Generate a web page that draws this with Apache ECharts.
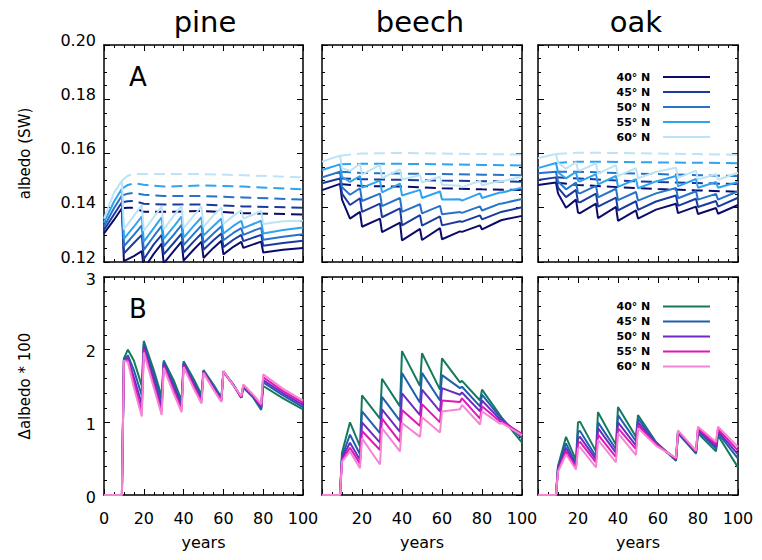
<!DOCTYPE html>
<html><head><meta charset="utf-8">
<script src="https://cdn.jsdelivr.net/npm/echarts@6/dist/echarts.min.js"></script>
<style>html,body{margin:0;padding:0;background:#fff}#c{width:762px;height:560px}</style>
</head><body><div id="c"></div>
<script>
const FONT = 'DejaVu Sans';
const speciesNames = ['pine', 'beech', 'oak'];
const latitudes = ['40° N', '45° N', '50° N', '55° N', '60° N'];
const topColors = ['#0b0b6b', '#1a3a9e', '#2673c9', '#2fa3ef', '#bde3f7'];
const bottomColors = ['#137a5e', '#1f5fae', '#6a2cc4', '#e116b4', '#f485d2'];
const yearTicks = [0, 20, 40, 60, 80, 100];
const albedoTicks = [0.12, 0.14, 0.16, 0.18, 0.20];
const deltaTicks = [0, 1, 2, 3];

// ---------- pine ----------
const pineYearsA = [0,5,9,10,15,19,20,25,29,30,35,39,40,45,49,50,55,59,60,65,69,70,75,79,80,90,100];
const pineA40 = [.1305,.1355,.1398,.1203,.1222,.1240,.1175,.1230,.1268,.1195,.1240,.1275,.1205,.1245,.1275,.1215,.1252,.1278,.1228,.1256,.1274,.1252,.1265,.1275,.1235,.1245,.1252];
const pineA45 = [.1318,.1375,.1420,.1232,.1270,.1300,.1210,.1265,.1300,.1228,.1270,.1305,.1235,.1275,.1305,.1245,.1280,.1305,.1255,.1282,.1300,.1277,.1290,.1300,.1260,.1270,.1278];
const pineA50 = [.1330,.1398,.1445,.1258,.1300,.1335,.1245,.1295,.1333,.1258,.1300,.1337,.1262,.1303,.1335,.1270,.1305,.1332,.1280,.1307,.1325,.1300,.1315,.1326,.1282,.1293,.1302];
const pineA55 = [.1345,.1422,.1470,.1285,.1330,.1368,.1275,.1325,.1365,.1285,.1330,.1368,.1290,.1332,.1365,.1298,.1333,.1360,.1305,.1333,.1352,.1325,.1340,.1352,.1305,.1318,.1327];
const pineA60 = [.1360,.1455,.1500,.1320,.1370,.1410,.1315,.1365,.1405,.1320,.1370,.1408,.1325,.1370,.1405,.1330,.1372,.1400,.1340,.1370,.1390,.1360,.1375,.1388,.1340,.1350,.1352];
const pineDashYears = [9,12,15,20,30,50,70,100];
const pineD40 = [.1398,.1400,.1400,.1385,.1385,.1388,.1380,.1375];
const pineD45 = [.1420,.1424,.1425,.1415,.1412,.1412,.1405,.1400];
const pineD50 = [.1445,.1452,.1455,.1448,.1443,.1443,.1438,.1430];
const pineD55 = [.1470,.1484,.1490,.1485,.1478,.1482,.1478,.1468];
const pineD60 = [.1500,.1518,.1525,.1524,.1524,.1524,.1520,.1512];
const pineYearsB = [0,9,10,12,15,19,20,25,29,30,35,39,40,45,49,50,55,59,60,65,69,70,75,79,80,90,100];
const pineB40 = [0,0,1.88,2.00,1.85,1.50,2.12,1.72,1.35,1.85,1.58,1.30,1.84,1.60,1.38,1.72,1.52,1.34,1.70,1.52,1.34,1.48,1.34,1.17,1.50,1.33,1.18];
const pineB45 = [0,0,1.86,1.92,1.72,1.37,2.08,1.65,1.30,1.83,1.53,1.26,1.82,1.56,1.34,1.71,1.50,1.32,1.70,1.52,1.34,1.49,1.35,1.19,1.55,1.37,1.21];
const pineB50 = [0,0,1.85,1.88,1.62,1.25,2.04,1.58,1.22,1.80,1.48,1.22,1.80,1.53,1.31,1.70,1.48,1.30,1.70,1.51,1.34,1.50,1.36,1.21,1.58,1.40,1.24];
const pineB55 = [0,0,1.85,1.86,1.55,1.15,2.00,1.52,1.15,1.77,1.44,1.18,1.78,1.50,1.28,1.69,1.46,1.29,1.70,1.51,1.35,1.51,1.37,1.23,1.62,1.43,1.27];
const pineB60 = [0,0,1.85,1.83,1.48,1.08,1.96,1.48,1.10,1.75,1.40,1.14,1.76,1.47,1.26,1.68,1.45,1.28,1.71,1.51,1.36,1.52,1.38,1.25,1.66,1.46,1.30];

// ---------- beech ----------
const beechYears = [0,9,10,14,19,20,29,30,39,40,49,50,59,60,69,70,79,80,89,90,100];
const beechA40 = [.1465,.1488,.1430,.1360,.1385,.1330,.1360,.1310,.1345,.1280,.1322,.1281,.1325,.1284,.1313,.1311,.1335,.1320,.1352,.1355,.1370];
const beechA45 = [.1490,.1508,.1452,.1410,.1435,.1385,.1415,.1365,.1398,.1335,.1373,.1334,.1368,.1335,.1350,.1348,.1372,.1357,.1383,.1385,.1402];
const beechA50 = [.1512,.1533,.1476,.1448,.1472,.1425,.1452,.1406,.1436,.1385,.1413,.1379,.1407,.1376,.1384,.1381,.1405,.1390,.1415,.1416,.1432];
const beechA55 = [.1539,.1560,.1514,.1495,.1517,.1474,.1500,.1457,.1489,.1445,.1466,.1436,.1460,.1430,.1431,.1426,.1453,.1436,.1456,.1456,.1474];
const beechA60 = [.1570,.1592,.1546,.1536,.1562,.1522,.1558,.1509,.1541,.1503,.1521,.1494,.1514,.1485,.1481,.1475,.1500,.1483,.1499,.1498,.1514];
const beechDashYears = [9,20,40,60,80,100];
const beechD40 = [.1488,.1480,.1478,.1472,.1468,.1465];
const beechD45 = [.1508,.1505,.1503,.1500,.1498,.1496];
const beechD50 = [.1533,.1528,.1526,.1524,.1522,.1520];
const beechD55 = [.1560,.1562,.1562,.1560,.1558,.1556];
const beechD60 = [.1592,.1600,.1602,.1600,.1598,.1596];
const beechB40 = [0,0,.58,1.00,.67,1.37,1.05,1.60,1.22,1.98,1.50,1.95,1.45,1.88,1.55,1.57,1.30,1.45,1.10,1.06,.72];
const beechB45 = [0,0,.53,.83,.56,1.15,.85,1.35,1.02,1.68,1.27,1.68,1.30,1.65,1.47,1.49,1.22,1.38,1.07,1.05,.78];
const beechB50 = [0,0,.51,.72,.48,1.00,.72,1.18,.87,1.40,1.10,1.45,1.15,1.47,1.38,1.41,1.15,1.30,1.04,1.03,.82];
const beechB55 = [0,0,.48,.65,.43,.88,.62,1.05,.73,1.17,.95,1.25,1.00,1.30,1.28,1.33,1.05,1.22,1.01,1.01,.84];
const beechB60 = [0,0,.46,.60,.37,.78,.42,.92,.60,.99,.80,1.07,.86,1.15,1.18,1.24,.97,1.15,.98,.99,.82];

// ---------- oak ----------
const oakYears = [0,9,10,14,19,20,21,29,30,39,40,49,50,59,69,70,79,80,89,90,100];
const oakA40 = [.1484,.1493,.1453,.1400,.1430,.1382,.1380,.1415,.1362,.1403,.1352,.1390,.1360,.1393,.1415,.1380,.1404,.1377,.1399,.1378,.1410];
const oakA45 = [.1502,.1512,.1474,.1439,.1466,.1421,.1420,.1452,.1404,.1437,.1390,.1424,.1392,.1423,.1445,.1407,.1433,.1403,.1425,.1404,.1437];
const oakA50 = [.1527,.1533,.1497,.1468,.1493,.1455,.1453,.1481,.1438,.1470,.1428,.1458,.1426,.1453,.1473,.1435,.1461,.1430,.1451,.1430,.1461];
const oakA55 = [.1546,.1565,.1531,.1508,.1532,.1499,.1497,.1524,.1486,.1517,.1477,.1505,.1472,.1497,.1517,.1479,.1506,.1474,.1495,.1474,.1495];
const oakA60 = [.1583,.1598,.1566,.1544,.1568,.1539,.1537,.1564,.1526,.1557,.1517,.1546,.1509,.1532,.1548,.1510,.1537,.1504,.1524,.1503,.1529];
const oakDashYears = [9,20,40,60,80,100];
const oakD40 = [.1493,.1484,.1476,.1469,.1464,.1459];
const oakD45 = [.1512,.1508,.1500,.1495,.1491,.1487];
const oakD50 = [.1533,.1533,.1528,.1524,.1520,.1517];
const oakD55 = [.1565,.1570,.1569,.1567,.1566,.1564];
const oakD60 = [.1598,.1603,.1602,.1600,.1598,.1595];
const oakB40 = [0,0,.40,.80,.48,1.00,1.01,.60,1.14,.69,1.21,.80,1.10,.73,.47,.85,.57,.85,.60,.82,.38];
const oakB45 = [0,0,.38,.71,.43,.87,.88,.53,1.00,.63,1.10,.74,1.05,.72,.48,.86,.58,.88,.64,.85,.50];
const oakB50 = [0,0,.36,.65,.40,.78,.80,.49,.92,.58,1.00,.68,1.00,.71,.49,.87,.59,.90,.67,.88,.56];
const oakB55 = [0,0,.34,.60,.38,.71,.73,.45,.83,.52,.92,.63,.96,.70,.50,.88,.60,.92,.70,.91,.61];
const oakB60 = [0,0,.32,.56,.35,.64,.66,.38,.76,.45,.85,.55,.92,.68,.51,.89,.61,.94,.73,.94,.66];

// ---------- assembly ----------
const panelsA = [
  {years: pineYearsA, solid: [pineA40,pineA45,pineA50,pineA55,pineA60], dashYears: pineDashYears, dashed: [pineD40,pineD45,pineD50,pineD55,pineD60]},
  {years: beechYears, solid: [beechA40,beechA45,beechA50,beechA55,beechA60], dashYears: beechDashYears, dashed: [beechD40,beechD45,beechD50,beechD55,beechD60]},
  {years: oakYears, solid: [oakA40,oakA45,oakA50,oakA55,oakA60], dashYears: oakDashYears, dashed: [oakD40,oakD45,oakD50,oakD55,oakD60]}
];
const panelsB = [
  {years: pineYearsB, lines: [pineB40,pineB45,pineB50,pineB55,pineB60]},
  {years: beechYears, lines: [beechB40,beechB45,beechB50,beechB55,beechB60]},
  {years: oakYears, lines: [oakB40,oakB45,oakB50,oakB55,oakB60]}
];

const cols = [{left: 104, width: 199}, {left: 322, width: 200}, {left: 538, width: 200}];
const rows = [{top: 45, height: 217}, {top: 277, height: 218}];
const ZWS = '\u200b';

const grids = [], xAxes = [], yAxes = [], series = [];
const black = '#000';
function axisCommon(showLabel) {
  return {
    axisLine: {show: true, onZero: false, lineStyle: {color: black, width: 1.5}},
    axisTick: {show: true, inside: true, length: 6, lineStyle: {color: black, width: 1}},
    splitLine: {show: false}, minorSplitLine: {show: false},
    axisLabel: {show: showLabel, color: black, fontSize: 16, fontFamily: FONT},
    nameTextStyle: {color: black, fontSize: 15, fontFamily: FONT}
  };
}
for (let r = 0; r < 2; r++) {
  for (let c = 0; c < 3; c++) {
    const gi = r * 3 + c;
    grids.push({left: cols[c].left, width: cols[c].width, top: rows[r].top, height: rows[r].height, show: false});
    ['bottom', 'top'].forEach((pos, k) => {
      const showLab = (r === 1 && k === 0);
      const ax = Object.assign(axisCommon(showLab), {
        gridIndex: gi, type: 'value', position: pos, min: yearTicks[0], max: yearTicks[yearTicks.length - 1], interval: 20,
        minorTick: {show: true, splitNumber: 4, length: 3, lineStyle: {color: black, width: 1}}
      });
      ax.axisLabel.margin = 15;
      ax.axisLabel.showMinLabel = (c === 0);
      ax.axisLabel.showMaxLabel = true;
      if (showLab) { ax.name = 'years'; ax.nameLocation = 'middle'; ax.nameGap = 39; ax.nameTextStyle.fontSize = 16; }
      xAxes.push(ax);
    });
    ['left', 'right'].forEach((pos, k) => {
      const showLab = (c === 0 && k === 0);
      const ticks = r === 0 ? albedoTicks : deltaTicks;
      const ax = Object.assign(axisCommon(showLab), {
        gridIndex: gi, type: 'value', position: pos, min: ticks[0], max: ticks[ticks.length - 1],
        interval: r === 0 ? 0.02 : 1,
        minorTick: {show: true, splitNumber: r === 0 ? 4 : 5, length: 3, lineStyle: {color: black, width: 1}}
      });
      ax.axisLabel.margin = 8;
      ax.axisLabel.showMinLabel = true; ax.axisLabel.showMaxLabel = true;
      if (r === 0) {
        ax.axisLabel.formatter = v => v.toFixed(2);
        ax.axisLabel.verticalAlign = 'bottom'; ax.axisLabel.lineHeight = 10;
      } else {
        ax.axisLabel.verticalAlign = 'top'; ax.axisLabel.lineHeight = 4;
      }
      if (showLab) {
        ax.name = r === 0 ? 'albedo (SW)' : 'Δalbedo * 100';
        ax.nameLocation = 'middle'; ax.nameGap = 72; ax.nameRotate = 90;
      }
      yAxes.push(ax);
    });
  }
}
function pairs(xs, ys) { return xs.map((x, i) => [x, ys[i]]); }

panelsA.forEach((p, c) => {
  const gi = c;
  for (let i = 0; i < 5; i++) {
    series.push({
      name: latitudes[i] + ' reference', type: 'line', xAxisIndex: gi * 2, yAxisIndex: gi * 2,
      data: pairs(p.dashYears, p.dashed[i]), showSymbol: false, symbol: 'none', clip: true, silent: true,
      itemStyle: {color: topColors[i]},
      lineStyle: {color: topColors[i], width: 2, type: [11, 6]}, z: 2
    });
  }
  for (let i = 0; i < 5; i++) {
    series.push({
      name: latitudes[i], type: 'line', xAxisIndex: gi * 2, yAxisIndex: gi * 2,
      data: pairs(p.years, p.solid[i]), showSymbol: false, symbol: 'none', clip: true, silent: true,
      itemStyle: {color: topColors[i]}, lineStyle: {color: topColors[i], width: 2}, z: 3
    });
  }
});
panelsB.forEach((p, c) => {
  const gi = 3 + c;
  for (let i = 0; i < 5; i++) {
    series.push({
      name: latitudes[i] + ZWS, type: 'line', xAxisIndex: gi * 2, yAxisIndex: gi * 2,
      data: pairs(p.years, p.lines[i]), showSymbol: false, symbol: 'none', clip: true, silent: true,
      itemStyle: {color: bottomColors[i]}, lineStyle: {color: bottomColors[i], width: 2}, z: 3
    });
  }
});

function legendDef(names, top) {
  return {
    data: names, orient: 'vertical', right: 47, top: top, align: 'right', icon: 'rect',
    itemWidth: 47, itemHeight: 2, itemGap: 0, selectedMode: false,
    textStyle: {fontSize: 11, fontWeight: 'bold', color: black, fontFamily: FONT, lineHeight: 15},
    formatter: n => n.replace(ZWS, '') + '  '
  };
}

const graphics = [];
const titleCenters = [205, 420, 636];
speciesNames.forEach((s, c) => graphics.push({
  type: 'text', x: titleCenters[c], y: 22,
  style: {text: s, align: 'center', verticalAlign: 'middle', fontSize: 29, fontFamily: FONT, fill: black}
}));
[['A', 77], ['B', 309]].forEach(([t, y]) => graphics.push({
  type: 'text', x: 138, y: y,
  style: {text: t, align: 'center', verticalAlign: 'middle', fontSize: 26, fontFamily: FONT, fill: black}
}));

const chart = echarts.init(document.getElementById('c'), null, {renderer: 'svg'});
chart.setOption({
  animation: false,
  backgroundColor: '#fff',
  textStyle: {fontFamily: FONT},
  grid: grids, xAxis: xAxes, yAxis: yAxes, series: series,
  legend: [legendDef(latitudes, 64.5), legendDef(latitudes.map(n => n + ZWS), 294)],
  graphic: graphics
});
</script>
</body></html>
